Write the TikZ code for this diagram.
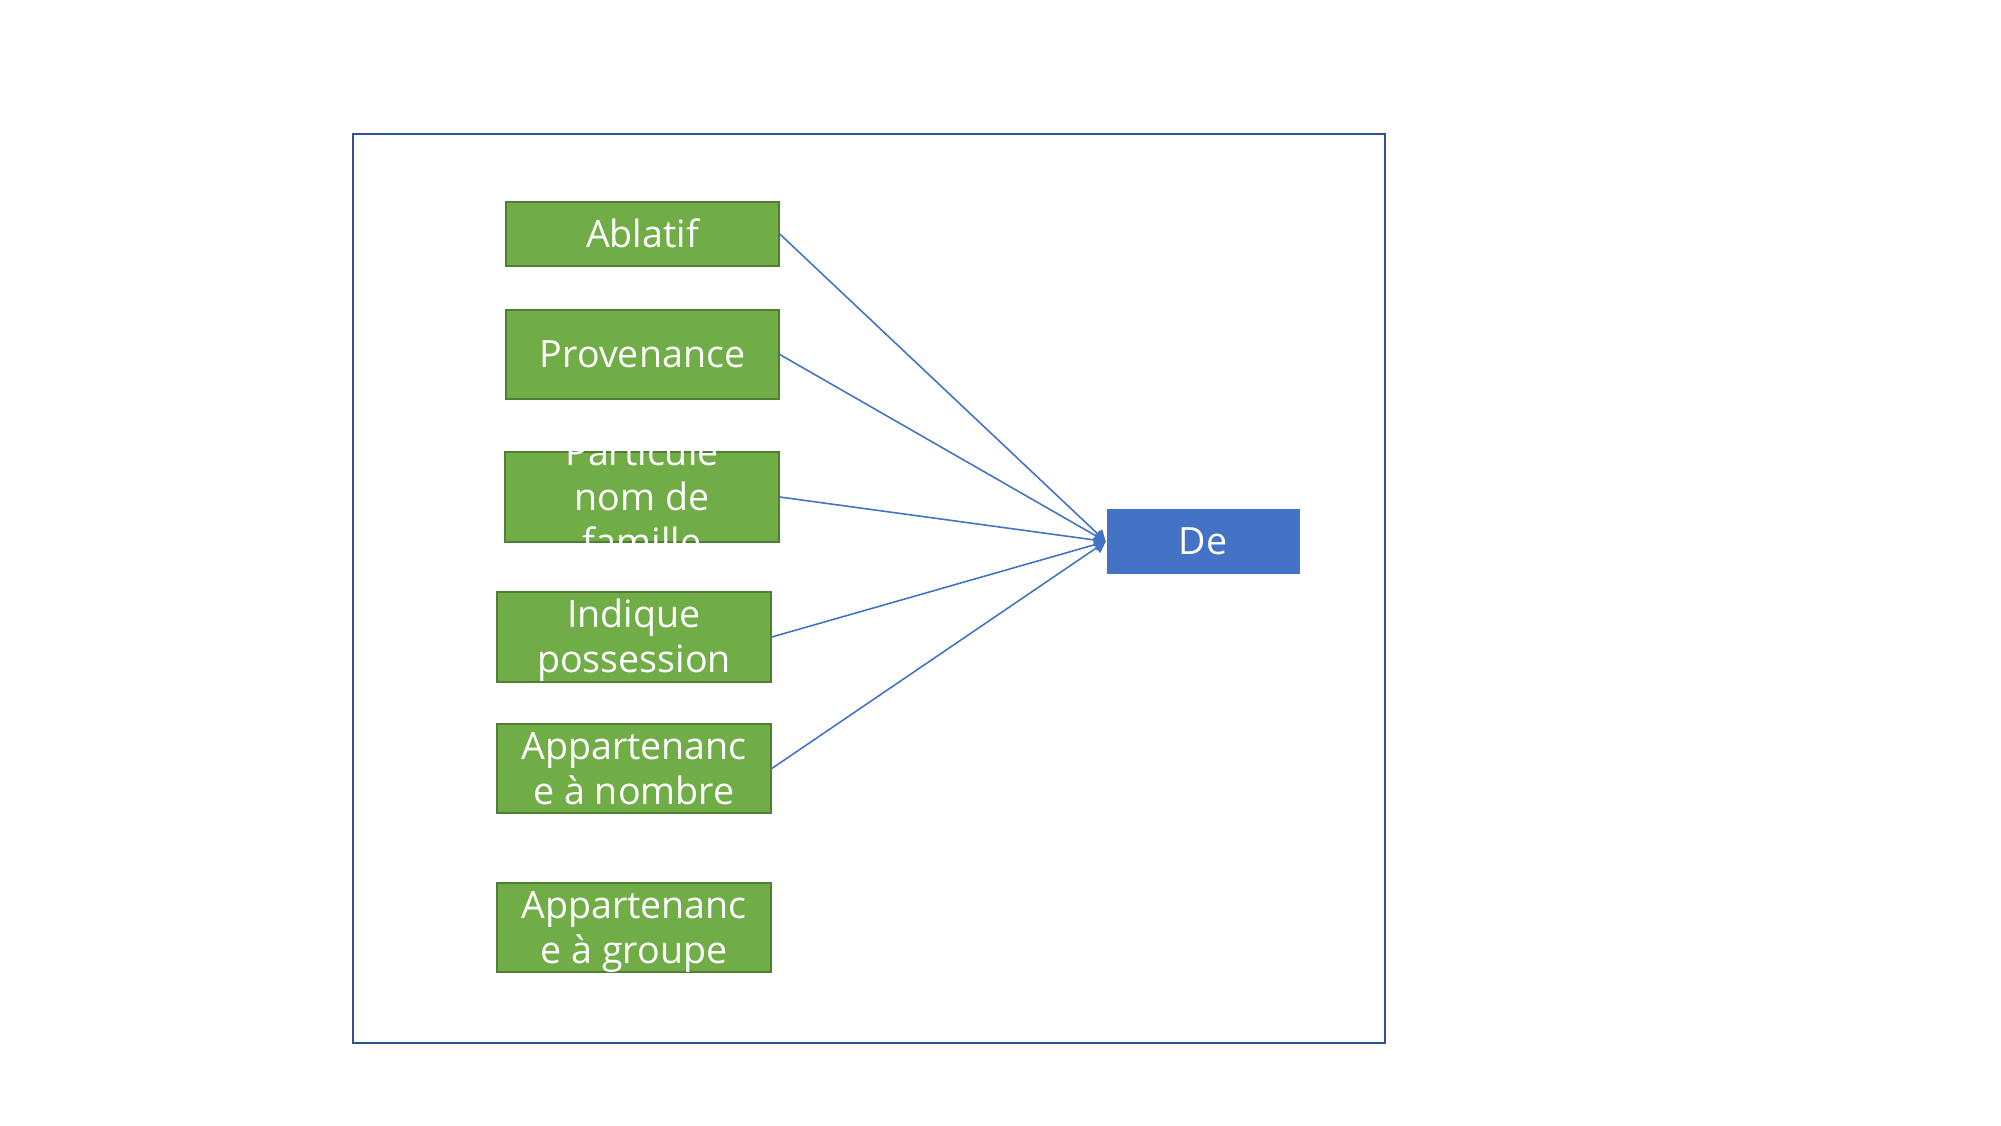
\documentclass[tikz,border=0pt]{standalone}
\usepackage{fontspec}
\setmainfont{Open Sans}
\usetikzlibrary{arrows.meta}

\definecolor{casegreen}{HTML}{70AD47}
\definecolor{caseedge}{HTML}{507E32}
\definecolor{deblue}{HTML}{4472C4}
\definecolor{framecol}{HTML}{2F528F}

\newcommand{\boxlines}[1]{\raisebox{-0.14cm}[0pt][0pt]{\begin{tabular}{@{}c@{}}#1\end{tabular}}}

\begin{document}
\begin{tikzpicture}[
  every node/.style={font=\fontsize{10.7}{12.8}\selectfont},
  casebox/.style={draw=caseedge, line width=0.45pt, fill=casegreen, text=white,
    minimum width=2.73cm, minimum height=0.89cm, inner sep=0pt},
  link/.style={draw=deblue, line width=0.45pt, -{Triangle[length=3.2pt, width=3.6pt]}}
]

\useasboundingbox (0,0) rectangle (20.01,-11.25);

% ----------------------------------------------------
% frame
% ----------------------------------------------------
\draw[framecol, line width=0.6pt] (3.53,-1.34) rectangle (13.85,-10.43);

% ----------------------------------------------------
% green boxes (left column)
% ----------------------------------------------------
\node[casebox, minimum height=0.64cm] (ablatif) at (6.425,-2.34) {\boxlines{Ablatif}};
\node[casebox] (provenance) at (6.425,-3.545) {\boxlines{Provenance}};
\node[casebox, minimum width=2.74cm, minimum height=0.90cm] (particule) at (6.42,-4.97) {\boxlines{Particule\\nom de\\famille}};
\node[casebox, minimum width=2.74cm, minimum height=0.90cm] (possession) at (6.34,-6.37) {\boxlines{Indique\\possession}};
\node[casebox, minimum width=2.74cm] (nombre) at (6.34,-7.685) {\boxlines{Appartenanc\\e à nombre}};
\node[casebox, minimum width=2.74cm] (groupe) at (6.34,-9.275) {\boxlines{Appartenanc\\e à groupe}};

% ----------------------------------------------------
% target box
% ----------------------------------------------------
\node[fill=deblue, text=white, minimum width=1.93cm, minimum height=0.65cm, inner sep=0pt] (de) at (12.03,-5.415) {De};

% arrows
\draw[link] (ablatif.east) -- (de.west);
\draw[link] (provenance.east) -- (de.west);
\draw[link] (particule.east) -- (de.west);
\draw[link] (possession.east) -- (de.west);
\draw[link] (nombre.east) -- (de.west);

\end{tikzpicture}
\end{document}
